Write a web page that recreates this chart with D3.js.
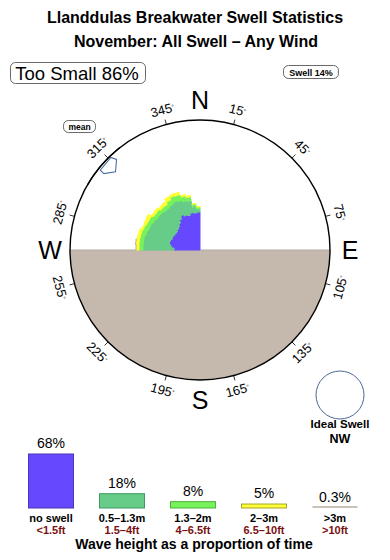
<!DOCTYPE html>
<html>
<head>
<meta charset="utf-8">
<script src="https://cdn.jsdelivr.net/npm/d3@7/dist/d3.min.js"></script>
<style>
  body { margin: 0; background: #fff; }
  text { font-family: "Liberation Sans", Arial, Helvetica, sans-serif; }
</style>
</head>
<body>
<div id="chart"></div>
<script>
// direction bins (centre, degrees) and stacked band sizes per bin
const dirs = [272.5, 277.5, 282.5, 287.5, 292.5, 297.5, 302.5, 307.5, 312.5,
              317.5, 322.5, 327.5, 332.5, 337.5, 342.5, 347.5, 352.5, 357.5];
const noSwell = [2.0, 2.23, 2.38, 2.38, 2.31, 2.31, 2.23, 2.23, 2.31,
                 2.38, 2.54, 2.77, 3.0, 2.85, 2.77, 2.92, 2.85, 2.92];
const small = [2.38, 2.15, 2.0, 1.92, 1.92, 1.92, 1.92, 1.85, 1.77,
               1.62, 1.46, 1.31, 1.15, 1.23, 1.15, 0.92, 0.54, 0.23];
const medium = [0.31, 0.31, 0.31, 0.38, 0.38, 0.31, 0.38, 0.31, 0.31,
                0.31, 0.31, 0.38, 0.46, 0.46, 0.38, 0.31, 0.15, 0.15];
const large = [0.23, 0.27, 0.23, 0.23, 0.15, 0.23, 0.31, 0.19, 0.23,
               0.23, 0.27, 0.31, 0.19, 0.23, 0.15, 0.15, 0.08, 0.08];
const huge = [0.04, 0.03, 0, 0, 0, 0, 0, 0, 0,
              0, 0, 0, 0, 0, 0, 0, 0, 0];

const tickDegs = [15, 45, 75, 105, 135, 165, 195, 225, 255, 285, 315, 345];
const compass = [["N", 0], ["E", 90], ["S", 180], ["W", 270]];
const meanDir = 315;

// legend
const bandNames = ["no swell", "0.5\u20131.3m", "1.3\u20132m", "2\u20133m", ">3m"];
const bandFeet = ["<1.5ft", "1.5\u20134ft", "4\u20136.5ft", "6.5\u201310ft", ">10ft"];
const bandPct = [68, 18, 8, 5, 0.3];
const bandLabels = ["68%", "18%", "8%", "5%", "0.3%"];
const colors = ["#6649ff", "#66cc88", "#77f25a", "#ffff33", "#b9aca2"];
const strokes = ["#4936b8", "#3f9a62", "#4fb33a", "#a3a32a", "#a89a90"];

const W = 390, H = 560;
const cx = 200, cy = 250, R = 130;
const svg = d3.select("#chart").append("svg").attr("width", W).attr("height", H);

// titles
svg.append("text").attr("x", 195).attr("y", 23).attr("text-anchor", "middle")
  .style("font-size", "16px").style("font-weight", "bold")
  .text("Llanddulas Breakwater Swell Statistics");
svg.append("text").attr("x", 196).attr("y", 47).attr("text-anchor", "middle")
  .style("font-size", "16px").style("font-weight", "bold")
  .text("November: All Swell \u2013 Any Wind");

// boxed labels
function boxLabel(x, y, w, h, tx, ty, size, txt, weight) {
  svg.append("rect").attr("x", x).attr("y", y).attr("width", w).attr("height", h)
    .attr("rx", 5).attr("fill", "#fff").attr("stroke", "#444").attr("stroke-width", 0.8);
  svg.append("text").attr("x", tx).attr("y", ty).attr("text-anchor", "middle")
    .style("font-size", size).style("font-weight", weight || "normal").text(txt);
}
boxLabel(10.5, 62.5, 135, 21, 77, 79.5, "18.5px", "Too Small 86%");
boxLabel(283.5, 65.5, 55, 13, 311, 76, "9px", "Swell 14%", "bold");
boxLabel(63.5, 120.5, 32, 12, 79.5, 130, "8.5px", "mean", "bold");

const g = svg.append("g").attr("transform", `translate(${cx},${cy})`);
const rad = d => d * Math.PI / 180;

// land (southern half)
g.append("path")
  .attr("d", d3.arc()({ innerRadius: 0, outerRadius: R, startAngle: rad(90), endAngle: rad(270) }))
  .attr("fill", "#c5b9ad");
g.append("line").attr("x1", -R).attr("x2", R).attr("y1", 0).attr("y2", 0)
  .attr("stroke", "#b0aaa8").attr("stroke-width", 1);

// rose
const r = d3.scaleLinear().domain([0, 10]).range([0, R]);
const keys = ["noSwell", "small", "medium", "large", "huge"];
const rows = dirs.map((d, i) => ({
  dir: d, noSwell: noSwell[i], small: small[i], medium: medium[i], large: large[i], huge: huge[i]
}));
const series = d3.stack().keys(keys)(rows);
const wedge = d3.arc()
  .innerRadius(d => r(d[0]))
  .outerRadius(d => r(d[1]))
  .startAngle(d => rad(d.data.dir - 2.5))
  .endAngle(d => rad(d.data.dir + 2.5));

series.forEach((s, k) => {
  g.append("g").attr("shape-rendering", "crispEdges").selectAll("path")
    .data(s.filter(d => d[1] > d[0]))
    .join("path")
    .attr("d", wedge)
    .attr("fill", colors[k])
    .attr("stroke", colors[k])
    .attr("stroke-width", 0.5);
});

// circle
g.append("circle").attr("r", R).attr("fill", "none").attr("stroke", "#000").attr("stroke-width", 1.4);

// ticks and labels
tickDegs.forEach(d => {
  const a = rad(d);
  g.append("line")
    .attr("x1", Math.sin(a) * R).attr("y1", -Math.cos(a) * R)
    .attr("x2", Math.sin(a) * (R + 5)).attr("y2", -Math.cos(a) * (R + 5))
    .attr("stroke", "#000").attr("stroke-width", 0.8);
  const lr = 145;
  const rot = (d > 90 && d < 270) ? d - 180 : d;
  const t = g.append("text")
    .attr("transform", `translate(${Math.sin(a) * lr},${-Math.cos(a) * lr}) rotate(${rot})`)
    .attr("text-anchor", "middle").attr("dy", "0.35em")
    .style("font-size", "13px");
  t.append("tspan").text(d);
  t.append("tspan").attr("dy", "-0.5em").style("font-size", "6px").text("\u00b0");
});

compass.forEach(([lab, d]) => {
  const a = rad(d);
  g.append("text")
    .attr("x", Math.sin(a) * 150).attr("y", -Math.cos(a) * 150)
    .attr("text-anchor", "middle").attr("dy", "0.36em")
    .style("font-size", "25px").text(lab);
});

// mean direction marker
g.append("path")
  .attr("transform", `rotate(${meanDir}) translate(0,${-R})`)
  .attr("d", d3.line()([[-14, 3], [-14, 8], [-4.5, 15], [5, 7], [2.5, 1.5]]) + "Z")
  .attr("fill", "#fff").attr("stroke", "#4a6f9f").attr("stroke-width", 1.1);
g.append("path")
  .attr("d", d3.arc()({ innerRadius: R, outerRadius: R, startAngle: rad(300), endAngle: rad(322) }))
  .attr("fill", "none").attr("stroke", "#000").attr("stroke-width", 1.4);

// ideal swell
svg.append("circle").attr("cx", 340).attr("cy", 395).attr("r", 24)
  .attr("fill", "#fff").attr("stroke", "#4a6a95").attr("stroke-width", 1);
svg.append("text").attr("x", 340).attr("y", 428).attr("text-anchor", "middle")
  .style("font-size", "11.5px").style("font-weight", "bold").text("Ideal Swell");
svg.append("text").attr("x", 340).attr("y", 443).attr("text-anchor", "middle")
  .style("font-size", "12.5px").style("font-weight", "bold").text("NW");

// legend bars
const xb = d3.scalePoint().domain(bandNames).range([51, 335]);
const yb = d3.scaleLinear().domain([0, 68]).range([508, 454]);
const bw = 45;
const leg = svg.append("g");
bandNames.forEach((n, i) => {
  const x = xb(n);
  const top = yb(bandPct[i]);
  if (i < 4) {
    leg.append("rect").attr("x", x - bw / 2).attr("y", top).attr("width", bw)
      .attr("height", yb(0) - top).attr("fill", colors[i]).attr("stroke", strokes[i]).attr("stroke-width", 1);
  } else {
    leg.append("line").attr("x1", x - bw / 2).attr("x2", x + bw / 2)
      .attr("y1", yb(0) - 1).attr("y2", yb(0) - 1).attr("stroke", colors[i]).attr("stroke-width", 1.5);
  }
  leg.append("text").attr("x", x).attr("y", top - 6).attr("text-anchor", "middle")
    .style("font-size", "14px").text(bandLabels[i]);
  leg.append("text").attr("x", x).attr("y", 521.5).attr("text-anchor", "middle")
    .style("font-size", "11px").style("font-weight", "bold").text(n);
  leg.append("text").attr("x", x).attr("y", 534).attr("text-anchor", "middle")
    .style("font-size", "11px").style("font-weight", "bold").attr("fill", "#7a1010").text(bandFeet[i]);
});
svg.append("text").attr("x", 194).attr("y", 549).attr("text-anchor", "middle")
  .style("font-size", "14px").style("font-weight", "bold").text("Wave height as a proportion of time");
</script>
</body>
</html>
